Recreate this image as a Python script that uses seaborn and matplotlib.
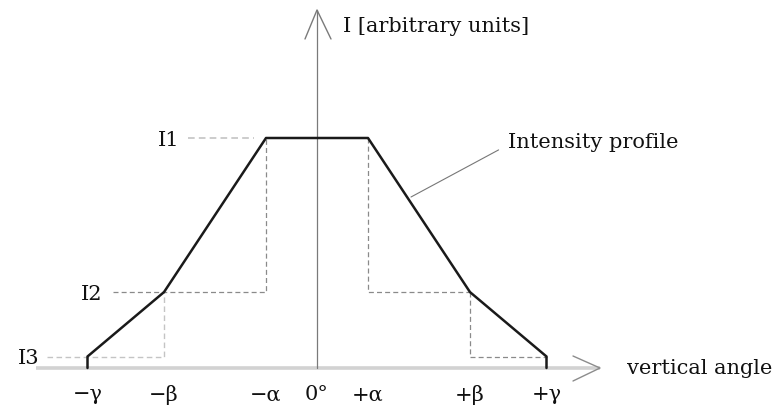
import matplotlib
matplotlib.use("Agg")
import matplotlib.pyplot as plt
import seaborn as sns
import pandas as pd

# Angular break points of the trapezoidal profile (arbitrary angle units)
alpha = 1.0
beta = 3.0
gamma = 4.5

# Intensity levels (arbitrary units)
I1 = 10.0
I2 = 3.3
I3 = 0.5

tick_positions = [-gamma, -beta, -alpha, 0.0, alpha, beta, gamma]
tick_labels = ["\u2212\u03b3", "\u2212\u03b2", "\u2212\u03b1", "0\u00b0", "+\u03b1", "+\u03b2", "+\u03b3"]
level_values = [I1, I2, I3]
level_labels = ["I1", "I2", "I3"]

profile_angle = [-gamma, -gamma, -beta, -alpha, alpha, beta, gamma, gamma]
profile_intensity = [0.0, I3, I2, I1, I1, I2, I3, 0.0]

sns.set_style("white")
plt.rcParams["font.family"] = ["DejaVu Serif"]

fig = plt.figure(figsize=(7.76, 4.12), dpi=100)
ax = fig.add_axes([0, 0, 1, 1])
ax.set_xlim(-317 / 51, (776 - 317) / 51)
ax.set_ylim(-44 / 23, 368 / 23)
ax.axis("off")

text_col = "#111111"
guide = "#8a8a8a"
guide_light = "#c4c4c4"
dash = (0, (4, 2.5))
fs = 15

# Axes with open arrowheads
x_end = (600 - 317) / 51
x_start = (36 - 317) / 51
ax.plot([x_start, x_end], [0, 0], color="#d2d2d2", lw=2.6, solid_capstyle="butt", zorder=1)
ax.plot([x_end - 27 / 51, x_end, x_end - 27 / 51], [12 / 23, 0, -13 / 23], color="#8c8c8c", lw=1.0, zorder=1)
y_top = 358 / 23
ax.plot([0, 0], [0, y_top], color="#7a7a7a", lw=0.9, zorder=1)
ax.plot([-12 / 51, 0, 14 / 51], [y_top - 29 / 23, y_top, y_top - 29 / 23], color="#7a7a7a", lw=1.0, zorder=1)

# Dashed step guides
ax.plot([-2.53, -alpha - 0.23], [I1, I1], color=guide_light, lw=1.2, ls=dash, zorder=1)
ax.plot([-4.0, -alpha, -alpha], [I2, I2, I1], color=guide, lw=0.9, ls=dash, zorder=1)
ax.plot([-5.3, -beta, -beta], [I3, I3, I2], color=guide_light, lw=1.0, ls=dash, zorder=1)
ax.plot([alpha, alpha, beta], [I1, I2, I2], color=guide, lw=0.9, ls=dash, zorder=1)
ax.plot([beta, beta, gamma], [I2, I3, I3], color=guide, lw=0.9, ls=dash, zorder=1)

# Intensity profile
df = pd.DataFrame({"angle": profile_angle, "intensity": profile_intensity})
sns.lineplot(data=df, x="angle", y="intensity", sort=False, estimator=None,
             color="#1a1a1a", lw=1.8, ax=ax, zorder=3)

# Tick labels along the angle axis
for pos, lab in zip(tick_positions, tick_labels):
    ax.text(pos, -27 / 23, lab, ha="center", va="center", fontsize=fs, color=text_col)

# Level labels
level_x = [-2.70, -4.20, -5.45]
for xv, val, lab in zip(level_x, level_values, level_labels):
    ax.text(xv, val - 0.1, lab, ha="right", va="center", fontsize=fs, color=text_col)

ax.text(26 / 51, 341 / 23, "I [arbitrary units]", ha="left", va="center", fontsize=fs, color=text_col)
ax.text((627 - 317) / 51, 0, "vertical angle", ha="left", va="center", fontsize=fs, color=text_col)

# Annotation with leader line from the label's left edge to the falling flank
ax.annotate("Intensity profile", xy=((411 - 317) / 51, (368 - 197) / 23),
            xytext=((508 - 317) / 51, (368 - 142) / 23), ha="left", va="center",
            fontsize=fs, color=text_col,
            arrowprops=dict(arrowstyle="-", color="#777777", lw=0.8,
                            relpos=(0, 0.35), shrinkA=5, shrinkB=0))

fig.savefig("out.png", dpi=100)
